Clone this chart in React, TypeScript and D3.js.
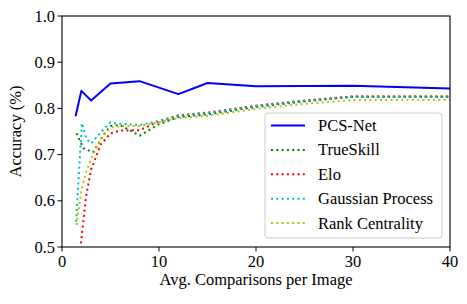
import * as d3 from 'd3'

const W = 467
const H = 304
const M = { top: 16, right: 17, bottom: 57, left: 62 }

// x = avg comparisons per image, y = accuracy
const PCS_X = [1.4, 2, 3, 5, 8, 12, 15, 20, 30, 40]
const PCS_Y = [0.783, 0.838, 0.817, 0.854, 0.859, 0.831, 0.855, 0.848, 0.849, 0.843]

const TS_X = [1.5, 2.2, 3.2, 4.4, 5, 6, 8, 10, 12, 15, 20, 25, 30, 40]
const TS_Y = [0.746, 0.714, 0.705, 0.746, 0.762, 0.764, 0.741, 0.766, 0.781, 0.787, 0.803, 0.815, 0.825, 0.825]

const ELO_X = [1.95, 2.5, 3, 4, 5, 6, 8, 10, 12, 15, 20, 25, 30, 40]
const ELO_Y = [0.508, 0.612, 0.668, 0.722, 0.746, 0.752, 0.753, 0.772, 0.785, 0.791, 0.806, 0.817, 0.826, 0.826]

const GP_X = [1.45, 2.05, 2.5, 3, 4, 5, 6, 8, 10, 12, 15, 20, 25, 30, 40]
const GP_Y = [0.555, 0.768, 0.735, 0.724, 0.748, 0.77, 0.767, 0.764, 0.773, 0.784, 0.79, 0.805, 0.816, 0.825, 0.825]

const RC_X = [1.5, 2, 2.5, 3, 4, 5, 6, 8, 10, 12, 15, 20, 25, 30, 40]
const RC_Y = [0.548, 0.622, 0.664, 0.69, 0.735, 0.758, 0.762, 0.762, 0.77, 0.779, 0.784, 0.799, 0.81, 0.818, 0.819]

const X_TICKS = [0, 10, 20, 30, 40]
const Y_TICKS = [0.5, 0.6, 0.7, 0.8, 0.9, 1.0]

const SERIES = [
  { name: 'PCS-Net', xs: PCS_X, ys: PCS_Y, color: '#0000ff', dash: null },
  { name: 'TrueSkill', xs: TS_X, ys: TS_Y, color: '#008000', dash: '2,3.3' },
  { name: 'Elo', xs: ELO_X, ys: ELO_Y, color: '#ff0000', dash: '2,3.3' },
  { name: 'Gaussian Process', xs: GP_X, ys: GP_Y, color: '#00bfbf', dash: '2,3.3' },
  { name: 'Rank Centrality', xs: RC_X, ys: RC_Y, color: '#bfbf00', dash: '2,3.3' },
]

export default function App() {
  const x = d3.scaleLinear().domain([0, 40]).range([M.left, W - M.right])
  const y = d3.scaleLinear().domain([0.5, 1.0]).range([H - M.bottom, M.top])
  const line = d3
    .line<[number, number]>()
    .x((d) => x(d[0]))
    .y((d) => y(d[1]))

  const legX = 265
  const legY = 113
  const rowH = 24.4

  return (
    <svg width={W} height={H} style={{ display: 'block', position: 'absolute', left: 0, top: 0 }}>
      <style>{'text { font-family: "Liberation Serif", "Times New Roman", serif; font-size: 16.5px; fill: #000; }'}</style>
      <rect width={W} height={H} fill="#fff" />
      <defs>
        <clipPath id="plot">
          <rect x={M.left} y={M.top} width={W - M.left - M.right} height={H - M.top - M.bottom} />
        </clipPath>
      </defs>
      <g clipPath="url(#plot)">
        {SERIES.map((s) => (
          <path
            key={s.name}
            d={line(s.xs.map((v, i) => [v, s.ys[i]] as [number, number])) ?? ''}
            fill="none"
            stroke={s.color}
            strokeWidth={2}
            strokeDasharray={s.dash ?? undefined}
            strokeLinejoin="round"
          />
        ))}
      </g>
      <rect
        x={M.left}
        y={M.top}
        width={W - M.left - M.right}
        height={H - M.top - M.bottom}
        fill="none"
        stroke="#000"
        strokeWidth={1.1}
      />
      {X_TICKS.map((t) => (
        <g key={t}>
          <line x1={x(t)} x2={x(t)} y1={H - M.bottom} y2={H - M.bottom + 4.5} stroke="#000" strokeWidth={1} />
          <text x={x(t)} y={266.5} textAnchor="middle">
            {t}
          </text>
        </g>
      ))}
      {Y_TICKS.map((t) => (
        <g key={t}>
          <line x1={M.left - 4.5} x2={M.left} y1={y(t)} y2={y(t)} stroke="#000" strokeWidth={1} />
          <text x={55} y={y(t) + 5.5} textAnchor="end">
            {t.toFixed(1)}
          </text>
        </g>
      ))}
      <text x={(M.left + W - M.right) / 2} y={285} textAnchor="middle">
        Avg. Comparisons per Image
      </text>
      <text transform={`translate(21,${(M.top + H - M.bottom) / 2}) rotate(-90)`} textAnchor="middle">
        Accuracy (%)
      </text>
      <rect
        x={legX}
        y={legY}
        width={177}
        height={125}
        rx={3}
        fill="#fff"
        fillOpacity={0.8}
        stroke="#cccccc"
        strokeWidth={1}
      />
      {SERIES.map((s, i) => {
        const cy = legY + 12.5 + i * rowH
        return (
          <g key={s.name}>
            <line
              x1={legX + 6}
              x2={legX + 40}
              y1={cy}
              y2={cy}
              stroke={s.color}
              strokeWidth={2}
              strokeDasharray={s.dash ?? undefined}
            />
            <text x={legX + 53} y={cy + 5.5}>
              {s.name}
            </text>
          </g>
        )
      })}
    </svg>
  )
}
